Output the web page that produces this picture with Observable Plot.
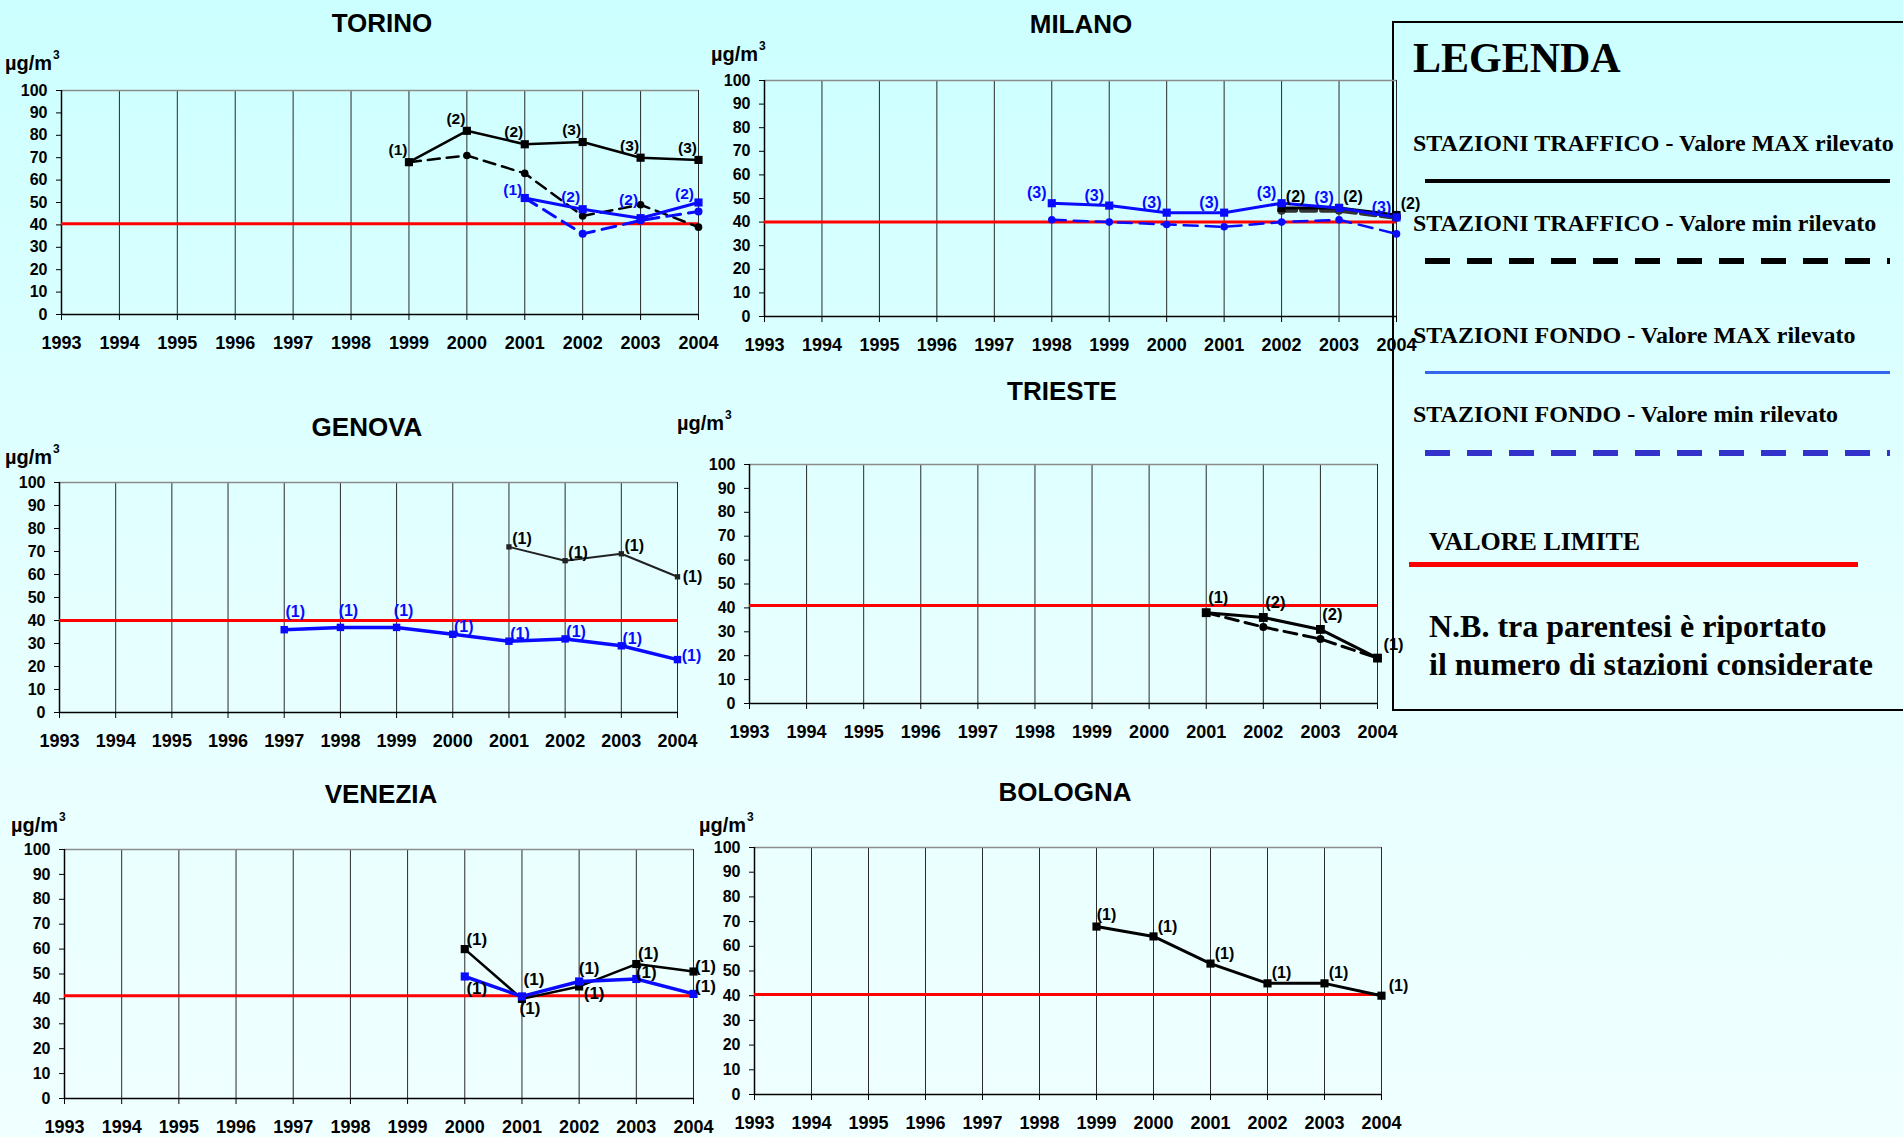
<!DOCTYPE html>
<html>
<head>
<meta charset="utf-8">
<script src="https://cdn.jsdelivr.net/npm/d3@7"></script>
<script src="https://cdn.jsdelivr.net/npm/@observablehq/plot@0.6"></script>
<style>
html,body{margin:0;padding:0;}
body{width:1903px;height:1137px;overflow:hidden;position:relative;
  background:linear-gradient(to bottom,#ccffff 0%,#e6ffff 55%,#f0ffff 100%);
  font-family:"Liberation Sans",Arial,sans-serif;}
.abs{position:absolute;white-space:nowrap;line-height:1;}
.title{font-weight:bold;font-size:26px;transform:translateX(-50%);}
.unit{font-weight:bold;font-size:20px;}
.unit span{font-size:12px;position:relative;top:-11px;margin-left:1px;}
.leg{font-family:"Liberation Serif","Times New Roman",serif;font-weight:bold;color:#000;}
.sw{position:absolute;}
</style>
</head>
<body>
<script>
// ---------------- DATA ----------------
const years = [1993,1994,1995,1996,1997,1998,1999,2000,2001,2002,2003,2004];
const yTicks = [0,10,20,30,40,50,60,70,80,90,100];

// TORINO
const torinoTrafficYears = [1999,2000,2001,2002,2003,2004];
const torinoTrafficMax   = [68,82,76,77,70,69];
const torinoTrafficMaxN  = [1,2,2,3,3,3];
const torinoTrafficMin   = [68,71,63,44,49,39];
const torinoFondoYears   = [2001,2002,2003,2004];
const torinoFondoMax     = [52,47,43,50];
const torinoFondoMaxN    = [1,2,2,2];
const torinoFondoMin     = [52,36,42,46];
const torinoLimit = 40.5;

// MILANO
const milanoFondoYears   = [1998,1999,2000,2001,2002,2003,2004];
const milanoFondoMax     = [48,47,44,44,48,46,42];
const milanoFondoMaxN    = [3,3,3,3,3,3,3];
const milanoFondoMin     = [41,40,39,38,40,41,35];
const milanoTrafficYears = [2002,2003,2004];
const milanoTrafficMax   = [46,46,43];
const milanoTrafficMaxN  = [2,2,2];
const milanoTrafficMin   = [45,45,42];
const milanoLimit = 40;

// GENOVA
const genovaTrafficYears = [2001,2002,2003,2004];
const genovaTrafficMax   = [72,66,69,59];
const genovaTrafficMaxN  = [1,1,1,1];
const genovaFondoYears   = [1997,1998,1999,2000,2001,2002,2003,2004];
const genovaFondoMax     = [36,37,37,34,31,32,29,23];
const genovaFondoMaxN    = [1,1,1,1,1,1,1,1];
const genovaLimit = 40;

// TRIESTE
const triesteTrafficYears = [2001,2002,2003,2004];
const triesteTrafficMax   = [38,36,31,19];
const triesteTrafficMaxN  = [1,2,2,1];
const triesteTrafficMin   = [38,32,27,19];
const triesteLimit = 41;

// VENEZIA
const veneziaYears       = [2000,2001,2002,2003,2004];
const veneziaTrafficMax  = [60,40,45,54,51];
const veneziaTrafficMaxN = [1,1,1,1,1];
const veneziaFondoMax    = [49,41,47,48,42];
const veneziaFondoMaxN   = [1,1,1,1,1];
const veneziaLimit = 41.3;

// BOLOGNA
const bolognaTrafficYears = [1999,2000,2001,2002,2003,2004];
const bolognaTrafficMax   = [68,64,53,45,45,40];
const bolognaTrafficMaxN  = [1,1,1,1,1,1];
const bolognaLimit = 40.5;

// ---------------- STYLE / LAYOUT ----------------
const BLACK = "#000000", BLUE = "#0a0aff", RED = "#ff0000", GRAYK = "#333333";

const panels = [
  {name:"TORINO", frame:[61,698,90,314], title:[382,23], unit:[5,70], limit:torinoLimit, labelSize:15.5, series:[
    {x:torinoTrafficYears, y:torinoTrafficMin, stroke:BLACK, width:2.5, dash:"12,7", symbol:"circle", r:3.8, fill:BLACK},
    {x:torinoTrafficYears, y:torinoTrafficMax, n:torinoTrafficMaxN, stroke:BLACK, width:2.5, symbol:"square", r:4.6, fill:BLACK,
      label:{dx:-11, dy:-12, fill:BLACK}},
    {x:torinoFondoYears, y:torinoFondoMin, stroke:BLUE, width:3, dash:"14,8", symbol:"circle", r:4, fill:BLUE},
    {x:torinoFondoYears, y:torinoFondoMax, n:torinoFondoMaxN, stroke:BLUE, width:3, symbol:"square", r:4.6, fill:BLUE,
      label:{dx:-12, dy:-12, fill:BLUE, over:{2001:{dy:-8}, 2003:{dy:-18}, 2004:{dx:-14, dy:-8}}}}
  ]},
  {name:"MILANO", frame:[764,1396,80,316], title:[1081,24], unit:[711,61], limit:milanoLimit, labelSize:16, series:[
    {x:milanoTrafficYears, y:milanoTrafficMin, stroke:GRAYK, width:5, dash:"14,6", symbol:"circle", r:4.5, fill:GRAYK},
    {x:milanoTrafficYears, y:milanoTrafficMax, n:milanoTrafficMaxN, stroke:BLACK, width:3, symbol:"square", r:4.6, fill:BLACK,
      label:{dx:14, dy:-11, fill:BLACK}},
    {x:milanoFondoYears, y:milanoFondoMin, stroke:BLUE, width:2.5, dash:"14,8", symbol:"circle", r:3.8, fill:BLUE},
    {x:milanoFondoYears, y:milanoFondoMax, n:milanoFondoMaxN, stroke:BLUE, width:3, symbol:"square", r:4.6, fill:BLUE,
      label:{dx:-15, dy:-10, fill:BLUE}}
  ]},
  {name:"GENOVA", frame:[59,677,482,712], title:[367,427], unit:[5,464], limit:genovaLimit, labelSize:16, series:[
    {x:genovaTrafficYears, y:genovaTrafficMax, n:genovaTrafficMaxN, stroke:"#222222", width:2, symbol:"square", r:3, fill:"#222222",
      label:{dx:13, dy:-8, fill:BLACK, over:{2004:{dx:15, dy:0}}}},
    {x:genovaFondoYears, y:genovaFondoMax, n:genovaFondoMaxN, stroke:BLUE, width:3.5, symbol:"square", r:4.2, fill:BLUE,
      label:{dx:11, dy:-7, fill:BLUE, over:{1997:{dx:11, dy:-18}, 1998:{dx:8, dy:-17}, 1999:{dx:7, dy:-17}, 2004:{dx:14, dy:-4}}}}
  ]},
  {name:"TRIESTE", frame:[749,1377,464,703], title:[1062,391], unit:[677,430], limit:triesteLimit, labelSize:16.5, series:[
    {x:triesteTrafficYears, y:triesteTrafficMin, stroke:BLACK, width:3, dash:"13,7", symbol:"circle", r:4, fill:BLACK},
    {x:triesteTrafficYears, y:triesteTrafficMax, n:triesteTrafficMaxN, stroke:BLACK, width:3, symbol:"square", r:5, fill:BLACK,
      label:{dx:12, dy:-15, fill:BLACK, over:{2004:{dx:16, dy:-13}}}}
  ]},
  {name:"VENEZIA", frame:[64,693,849,1098], title:[381,794], unit:[11,832], limit:veneziaLimit, labelSize:17, series:[
    {x:veneziaYears, y:veneziaTrafficMax, n:veneziaTrafficMaxN, stroke:BLACK, width:2.5, symbol:"square", r:4.6, fill:BLACK,
      label:{dx:12, dy:-10, fill:BLACK, over:{2001:{dx:8, dy:10}, 2002:{dx:15, dy:7}, 2004:{dx:12, dy:-5}}}},
    {x:veneziaYears, y:veneziaFondoMax, n:veneziaFondoMaxN, stroke:BLUE, width:3.5, symbol:"square", r:4.6, fill:BLUE,
      label:{dx:12, dy:-8, fill:BLACK, over:{2000:{dx:12, dy:12}, 2001:{dx:12, dy:-17}, 2002:{dx:10, dy:-13}, 2003:{dx:10, dy:-6}, 2004:{dx:12, dy:-7}}}}
  ]},
  {name:"BOLOGNA", frame:[754,1381,847,1094], title:[1065,792], unit:[699,832], limit:bolognaLimit, labelSize:16, series:[
    {x:bolognaTrafficYears, y:bolognaTrafficMax, n:bolognaTrafficMaxN, stroke:BLACK, width:3, symbol:"square", r:4.6, fill:BLACK,
      label:{dx:14, dy:-10, fill:BLACK, over:{1999:{dx:10, dy:-12}, 2004:{dx:17, dy:-10}}}}
  ]}
];

// ---------------- LEGEND (behind the charts) ----------------
function el(tag, cls, style, html) {
  const e = document.createElement(tag);
  if (cls) e.className = cls;
  Object.assign(e.style, style);
  if (html != null) e.innerHTML = html;
  document.body.appendChild(e);
  return e;
}
el("div", "sw", {left:"1392px", top:"21px", width:"600px", height:"686px", border:"2px solid #000", boxSizing:"content-box"});
const legTexts = [
  {t:"LEGENDA", x:1413, base:72, fs:42},
  {t:"STAZIONI TRAFFICO - Valore MAX rilevato", x:1413, base:151, fs:24},
  {t:"STAZIONI TRAFFICO - Valore min rilevato", x:1413, base:231, fs:24},
  {t:"STAZIONI FONDO - Valore MAX rilevato", x:1413, base:343, fs:24},
  {t:"STAZIONI FONDO - Valore min rilevato", x:1413, base:422, fs:24},
  {t:"VALORE LIMITE", x:1429, base:551, fs:26},
  {t:"N.B. tra parentesi è riportato", x:1429, base:637, fs:32},
  {t:"il numero di stazioni considerate", x:1429, base:675, fs:32}
];
for (const L of legTexts) {
  el("div", "abs leg", {left:L.x+"px", top:(L.base - 0.8375*L.fs)+"px", fontSize:L.fs+"px"}, L.t);
}
el("div", "sw", {left:"1425px", top:"179px", width:"465px", height:"4px", background:BLACK});
el("div", "sw", {left:"1425px", top:"258px", width:"465px", height:"6px",
  background:"repeating-linear-gradient(to right,#000 0 25px,transparent 25px 42px)"});
el("div", "sw", {left:"1425px", top:"371px", width:"465px", height:"3px", background:"#3366ee"});
el("div", "sw", {left:"1425px", top:"450px", width:"465px", height:"6px",
  background:"repeating-linear-gradient(to right,#3333cc 0 25px,transparent 25px 42px)"});
el("div", "sw", {left:"1409px", top:"562px", width:"449px", height:"5px", background:RED});

// ---------------- CHARTS ----------------
function drawPanel(p) {
  const [x0, x1, yT, yB] = p.frame;
  const mL = 64, mR = 44, mT = 14, mB = 48;
  const width = x1 - x0 + mL + mR, height = yB - yT + mT + mB;

  const marks = [
    Plot.gridX(years.slice(1), {stroke:"#2a2a2a", strokeOpacity:1, strokeWidth:1}),
    Plot.ruleY([100], {stroke:"#8c8c8c", strokeWidth:1.5}),
    Plot.ruleX([years[0]], {stroke:"#000", strokeWidth:1.5}),
    Plot.ruleY([0], {stroke:"#000", strokeWidth:1.5}),
    Plot.axisY({ticks:yTicks, tickSize:5, tickPadding:9, fontSize:16, fontWeight:"bold", tickFormat:d => String(d), label:null}),
    Plot.axisX({ticks:years, tickSize:6, tickPadding:16, fontSize:18, fontWeight:"bold", tickFormat:d => String(d), label:null}),
    Plot.ruleY([p.limit], {stroke:RED, strokeWidth:3})
  ];
  const sets = p.series.map(s => ({s, data: s.x.map((yr, i) => ({year:yr, value:s.y[i], n: s.n ? s.n[i] : null}))}));
  for (const {s, data} of sets) {
    marks.push(Plot.line(data, {x:"year", y:"value", stroke:s.stroke, strokeWidth:s.width, strokeDasharray:s.dash || null}));
  }
  for (const {s, data} of sets) {
    marks.push(Plot.dot(data, {x:"year", y:"value", symbol:s.symbol, r:s.r, fill:s.fill, stroke:"none"}));
  }
  for (const {s, data} of sets) {
    if (!s.label) continue;
    const over = s.label.over || {};
    const normal = data.filter(d => !over[d.year]);
    const common = {x:"year", y:"value", text:d => `(${d.n})`, fill:s.label.fill, fontSize:p.labelSize, fontWeight:"bold"};
    marks.push(Plot.text(normal, {...common, dx:s.label.dx, dy:s.label.dy}));
    for (const yr of Object.keys(over)) {
      const o = over[yr];
      marks.push(Plot.text(data.filter(d => d.year === +yr), {...common, dx:o.dx ?? s.label.dx, dy:o.dy ?? s.label.dy}));
    }
  }

  const svg = Plot.plot({
    width, height,
    marginLeft:mL, marginRight:mR, marginTop:mT, marginBottom:mB,
    x:{domain:[years[0], years[years.length - 1]]},
    y:{domain:[0, 100]},
    style:{background:"transparent", overflow:"visible", fontFamily:"'Liberation Sans', Arial, sans-serif", color:"#000"},
    marks
  });
  svg.style.position = "absolute";
  svg.style.left = (x0 - mL) + "px";
  svg.style.top = (yT - mT) + "px";
  document.body.appendChild(svg);

  el("div", "abs title", {left:p.title[0]+"px", top:(p.title[1] - 12.7)+"px"}, p.name);
  el("div", "abs unit", {left:p.unit[0]+"px", top:(p.unit[1] - 16.9)+"px"}, "µg/m<span>3</span>");
}
panels.forEach(drawPanel);
</script>
</body>
</html>
